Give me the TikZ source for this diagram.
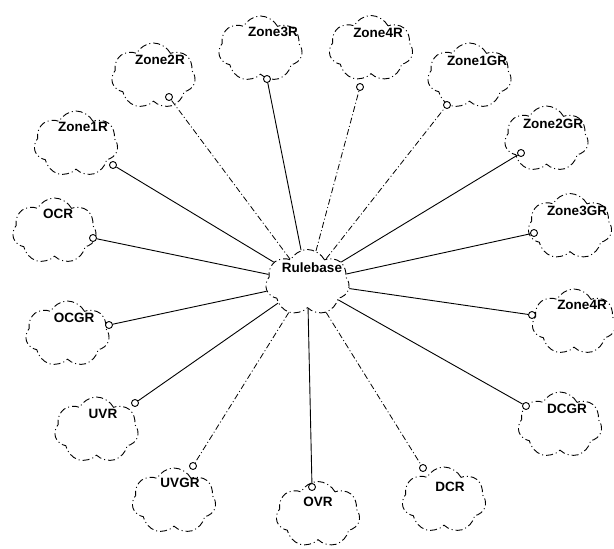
\documentclass[tikz,border=0pt]{standalone}
\usepackage{fontspec}
\setmainfont{Liberation Sans}
\usetikzlibrary{shapes.symbols}
\begin{document}
\begin{tikzpicture}[x=1pt,y=-1pt,
  cls/.style={cloud, cloud puffs=7, cloud puff arc=125, cloud ignores aspect,
    draw=black, fill=white, line width=0.9pt,
    dash pattern=on 7pt off 3pt on 1pt off 3pt,
    minimum width=84pt, minimum height=66pt, inner sep=0pt},
  lbl/.style={font=\fontsize{13.5}{15}\selectfont\bfseries, inner sep=0pt},
  hasc/.style={circle, draw=black, fill=white, line width=0.9pt,
    minimum size=7pt, inner sep=0pt},
  solidlink/.style={line width=0.9pt},
  dashlink/.style={line width=0.8pt, dash pattern=on 6pt off 2.5pt on 1pt off 2.5pt}]
\useasboundingbox (0,0) rectangle (614,549);

% class clouds
\node[cls] (rb)    at (307.5,282.5) {};
\node[cls] (z1r)   at (76,144) {};
\node[cls] (ocr)   at (54.5,231) {};
\node[cls] (z2r)   at (153.5,76) {};
\node[cls] (z3r)   at (260.5,49) {};
\node[cls] (z4r)   at (371,48.5) {};
\node[cls] (z1gr)  at (469.5,76) {};
\node[cls] (z2gr)  at (546.5,139) {};
\node[cls] (z3gr)  at (570,226.5) {};
\node[cls] (z4rb)  at (574,322) {};
\node[cls] (dcgr)  at (560,425) {};
\node[cls] (dcr)   at (444,500) {};
\node[cls] (ovr)   at (318,514.5) {};
\node[cls] (uvgr)  at (174,501) {};
\node[cls] (uvr)   at (96.5,430) {};
\node[cls] (ocgr)  at (67.5,334) {};

% labels
\node[lbl] (rbt)   at (312,268) {Rulebase};
\node[lbl] (z1rt)  at (83,127) {Zone1R};
\node[lbl] (ocrt)  at (58,214) {OCR};
\node[lbl] (z2rt)  at (160,60) {Zone2R};
\node[lbl] (z3rt)  at (273,32) {Zone3R};
\node[lbl] (z4rt)  at (378,33) {Zone4R};
\node[lbl] (z1grt) at (477,61) {Zone1GR};
\node[lbl] (z2grt) at (553,124) {Zone2GR};
\node[lbl] (z3grt) at (577,211) {Zone3GR};
\node[lbl] (z4rbt) at (582,305) {Zone4R};
\node[lbl] (dcgrt) at (567,409) {DCGR};
\node[lbl] (dcrt)  at (450,487) {DCR};
\node[lbl] (ovrt)  at (318,502) {OVR};
\node[lbl] (uvgrt) at (180,483) {UVGR};
\node[lbl] (uvrt)  at (103,414) {UVR};
\node[lbl] (ocgrt) at (74,318) {OCGR};

% has-circles
\node[hasc] (cz1r)  at (113,165) {};
\node[hasc] (cocr)  at (93,238) {};
\node[hasc] (cz2r)  at (169,97) {};
\node[hasc] (cz3r)  at (267,79) {};
\node[hasc] (cz4r)  at (360,87) {};
\node[hasc] (cz1gr) at (447,105) {};
\node[hasc] (cz2gr) at (521,153) {};
\node[hasc] (cz3gr) at (534,233) {};
\node[hasc] (cz4rb) at (532,315) {};
\node[hasc] (cdcgr) at (526,406) {};
\node[hasc] (cdcr)  at (423,468) {};
\node[hasc] (covr)  at (312,487) {};
\node[hasc] (cuvgr) at (193,466) {};
\node[hasc] (cuvr)  at (135,403) {};
\node[hasc] (cocgr) at (109,325) {};

% connectors
\draw[solidlink] (rb) -- (cz1r);
\draw[solidlink] (rb) -- (cocr);
\draw[dashlink]  (rb) -- (cz2r);
\draw[solidlink] (rb) -- (cz3r);
\draw[dashlink]  (rb) -- (cz4r);
\draw[dashlink]  (rb) -- (cz1gr);
\draw[solidlink] (rb) -- (cz2gr);
\draw[solidlink] (rb) -- (cz3gr);
\draw[solidlink] (rb) -- (cz4rb);
\draw[solidlink] (rb) -- (cdcgr);
\draw[dashlink]  (rb) -- (cdcr);
\draw[solidlink] (rb) -- (covr);
\draw[dashlink]  (rb) -- (cuvgr);
\draw[solidlink] (rb) -- (cuvr);
\draw[solidlink] (rb) -- (cocgr);
\end{tikzpicture}
\end{document}
